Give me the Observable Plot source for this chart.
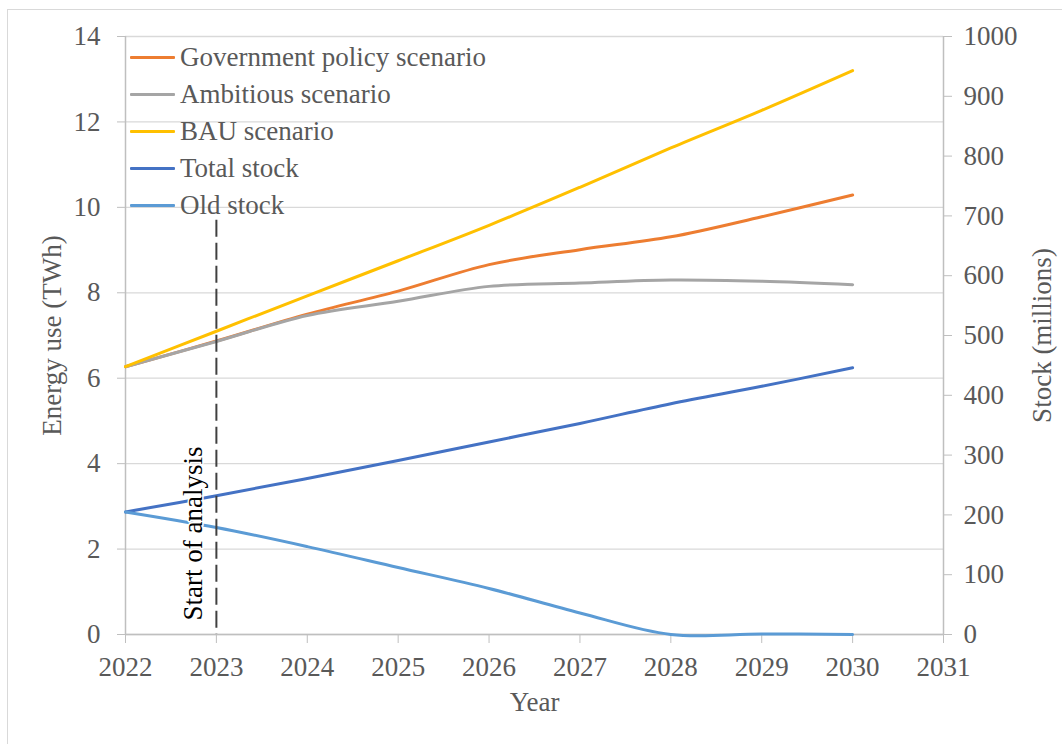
<!DOCTYPE html>
<html>
<head>
<meta charset="utf-8">
<script src="https://cdn.jsdelivr.net/npm/d3@7"></script>
<script src="https://cdn.jsdelivr.net/npm/@observablehq/plot@0.6"></script>
<style>
  html, body { margin: 0; padding: 0; background: #fff; overflow: hidden; }
  #wrap { position: relative; width: 1062px; height: 744px; overflow: hidden; }
  #border { position: absolute; left: 7px; top: 9px; width: 2000px; height: 2000px;
            border-top: 1.5px solid #D9D9D9; border-left: 1.5px solid #D9D9D9; pointer-events: none; }
  #legend { position: absolute; left: 130px; top: 39px; font-family: "Liberation Serif", serif;
            font-size: 27px; color: #595959; }
  .row { display: flex; align-items: center; height: 37px; line-height: 37px; white-space: nowrap; }
  .swatch { width: 45px; height: 3px; margin-right: 5px; border-radius: 1px; }
  #chart svg text { font-family: "Liberation Serif", serif; }
</style>
</head>
<body>
<div id="wrap"><div id="border"></div><div id="chart"></div><div id="legend"></div></div>
<script>
// ---- data ----
const years = [2022, 2023, 2024, 2025, 2026, 2027, 2028, 2029, 2030];
const govPolicy  = [6.27, 6.87, 7.50, 8.04, 8.66, 9.01, 9.31, 9.78, 10.29];
const ambitious  = [6.27, 6.86, 7.47, 7.80, 8.15, 8.23, 8.30, 8.27, 8.19];
const bau        = [6.27, 7.10, 7.93, 8.75, 9.58, 10.47, 11.39, 12.27, 13.20];
const totalStock = [205, 232, 261, 291, 322, 353, 386, 415, 446];
const oldStock   = [205, 179, 147, 112, 77, 36, 0, 1, 0];

const seriesNames  = ["Government policy scenario", "Ambitious scenario", "BAU scenario", "Total stock", "Old stock"];
const seriesColors = ["#ED7D31", "#A5A5A5", "#FFC000", "#4472C4", "#5B9BD5"];
const seriesAxis   = ["energy", "energy", "energy", "stock", "stock"];
const seriesValues = [govPolicy, ambitious, bau, totalStock, oldStock];

const energyTicks = [0, 2, 4, 6, 8, 10, 12, 14];
const stockTicks  = [0, 100, 200, 300, 400, 500, 600, 700, 800, 900, 1000];
const yearTicks   = [2022, 2023, 2024, 2025, 2026, 2027, 2028, 2029, 2030, 2031];

const analysisStart = 2023;
const analysisLineTop = 9.7;
const analysisLabel = "Start of analysis";

const xLabel = "Year";
const yLeftLabel = "Energy use (TWh)";
const yRightLabel = "Stock (millions)";

// stock (right axis) mapped onto energy (left axis) scale
const energyMax = 14, stockMax = 1000;
const k = energyMax / stockMax;

const font = "Liberation Serif";
const axisColor = "#BFBFBF";
const gridColor = "#D9D9D9";
const textColor = "#595959";

const lineMarks = seriesNames.map((name, i) => {
  const rows = years.map((yr, j) => ({year: yr, v: seriesAxis[i] === "stock" ? seriesValues[i][j] * k : seriesValues[i][j]}));
  return Plot.line(rows, {x: "year", y: "v", stroke: seriesColors[i], strokeWidth: 3, curve: "catmull-rom", strokeLinecap: "round"});
});

const chart = Plot.plot({
  width: 1062,
  height: 744,
  marginLeft: 125,
  marginRight: 119,
  marginTop: 36,
  marginBottom: 110,
  style: {fontFamily: font, fontSize: "27px", background: "none", color: textColor},
  x: {domain: [yearTicks[0], yearTicks[yearTicks.length - 1]]},
  y: {domain: [0, energyMax]},
  marks: [
    Plot.gridY(energyTicks, {stroke: gridColor, strokeOpacity: 1, strokeWidth: 1.3}),
    Plot.ruleY([0], {stroke: axisColor, strokeWidth: 1.5}),
    Plot.ruleX([yearTicks[0], yearTicks[yearTicks.length - 1]], {stroke: axisColor, strokeWidth: 1.5}),
    Plot.axisY(energyTicks, {anchor: "left", tickSize: 8, tickPadding: 17, stroke: axisColor, fill: textColor, label: null,
      fontFamily: font, fontSize: 27, tickFormat: d => String(d)}),
    Plot.axisY(stockTicks.map(s => s * k), {anchor: "right", tickSize: 8, tickPadding: 12, stroke: axisColor, fill: textColor, label: null,
      fontFamily: font, fontSize: 27, tickFormat: d => String(Math.round(d / k))}),
    Plot.axisX(yearTicks, {tickSize: 9, tickPadding: 13, stroke: axisColor, fill: textColor, label: null,
      fontFamily: font, fontSize: 27, tickFormat: d => String(d)}),
    Plot.text([yLeftLabel], {frameAnchor: "left", rotate: -90, textAnchor: "middle", lineAnchor: "middle", dx: -73, fill: textColor, fontFamily: font}),
    Plot.text([yRightLabel], {frameAnchor: "right", rotate: -90, textAnchor: "middle", lineAnchor: "middle", dx: 99, fill: textColor, fontFamily: font}),
    Plot.text([xLabel], {frameAnchor: "bottom", textAnchor: "middle", lineAnchor: "middle", dy: 68, fill: textColor, fontFamily: font}),
    ...lineMarks,
    Plot.ruleX([analysisStart], {y1: analysisLineTop, y2: 0, stroke: "#404040", strokeWidth: 2, strokeDasharray: "17,6"}),
    Plot.text([{year: analysisStart, label: analysisLabel}], {x: "year", frameAnchor: "bottom", text: "label", rotate: -90,
      textAnchor: "start", lineAnchor: "middle", dx: -23, dy: -14, fill: "#000", stroke: "white", strokeWidth: 3, fontFamily: font})
  ]
});
document.getElementById("chart").appendChild(chart);

// legend (inside the plot area, top-left)
const legend = d3.select("#legend");
seriesNames.forEach((name, i) => {
  const row = legend.append("div").attr("class", "row");
  row.append("div").attr("class", "swatch").style("background", seriesColors[i]);
  row.append("span").text(name);
});
</script>
</body>
</html>
